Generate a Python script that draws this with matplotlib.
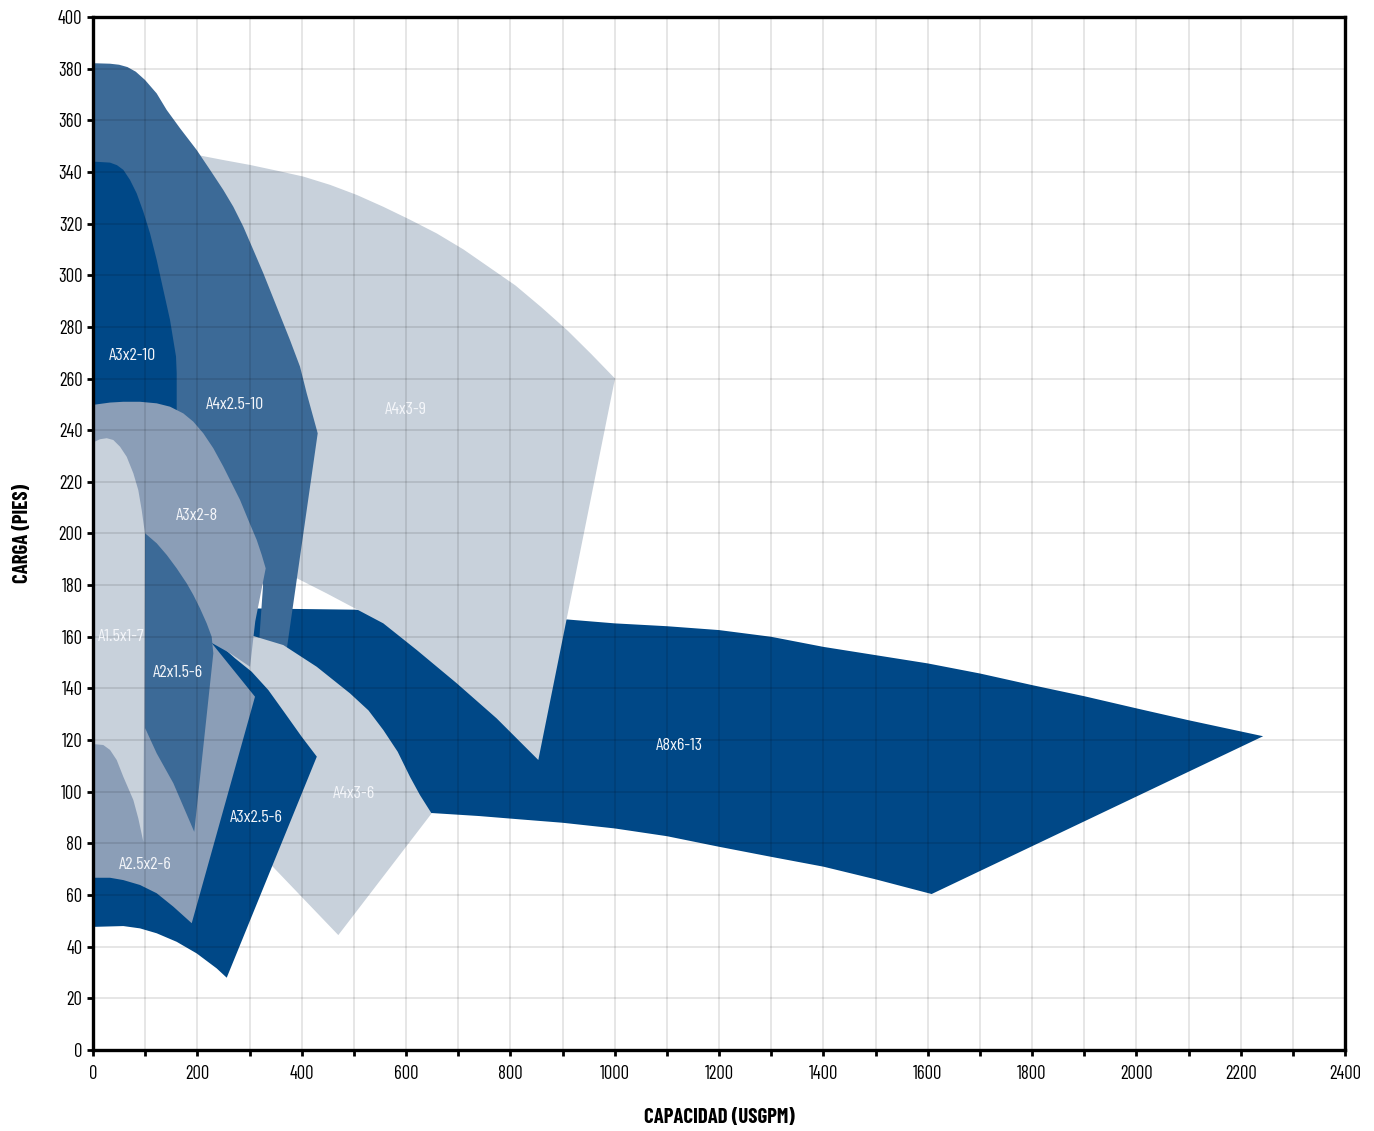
import matplotlib
matplotlib.use("Agg")
import matplotlib.pyplot as plt
import numpy as np

plt.rcParams["font.family"] = ["Barlow Condensed", "DejaVu Sans"]

# ── Outlines of each pump range (capacidad USGPM, carga pies) ────────────────

a8x6_13_x = [300, 502, 700, 909.5, 1000, 1100, 1200, 1300, 1400, 1500, 1600, 1700,
             1800, 1900, 2000, 2100, 2243,
             1607.6, 1500, 1400, 1300, 1200, 1100, 1000, 900, 819, 740, 646, 300]
a8x6_13_y = [171, 170.5, 169, 166.7, 165.2, 164.1, 162.6, 160, 156.1, 152.9, 149.7, 145.8,
             141.3, 137, 132.3, 127.7, 121.5,
             60.4, 66.1, 71, 74.8, 78.7, 82.8, 85.8, 88, 89.3, 90.6, 91.8, 150]

a4x3_9_x = [170, 198.8, 249.8, 301, 352.1, 403.1, 454.3, 505.5, 556.5, 607.6, 658.8,
            710, 760, 810, 860, 910, 955, 1000.6,
            853.6, 773.8, 697.2, 620.5, 556.5, 502.2, 448, 390.4, 300, 170]
a4x3_9_y = [348, 346.6, 344.6, 342.7, 340.5, 338.2, 335, 331.1, 326.5, 321.5, 316.2,
            310, 303, 296, 287.5, 278.5, 269.5, 260,
            112.3, 128.4, 142, 154.9, 165.2, 171, 176.8, 182.7, 188, 195]

a4x25_10_x = [0, 32.6, 50, 66, 82, 99.7, 122, 141.2, 166.8, 198.7, 224.3, 249.8, 269,
              288.1, 307.3, 326.4, 352.1, 377.6, 396.8, 409.6, 430.7,
              371.2, 318, 326, 250, 0]
a4x25_10_y = [382.1, 381.9, 381.5, 380.6, 378.8, 375.6, 370.4, 364, 356.9, 348.5, 340.8, 333, 326.5,
              318.8, 309.8, 300.8, 287.8, 274.9, 264.6, 254.3, 238.8,
              154.9, 157, 180, 215, 230]

a3x2_10_x = [0, 32.6, 46, 58.1, 70.9, 83.7, 96.4, 109.3, 122.1, 134.8, 147.6, 153.9, 159.1,
             160.4, 160.4, 0]
a3x2_10_y = [344, 343.6, 342.6, 340.8, 336.9, 331.7, 324.6, 316.2, 305.9, 294.3, 282.7, 274.9, 268.5,
             262, 240, 240]

a4x3_6_x = [230, 301, 364.8, 428.8, 492.6, 528, 556.5, 584, 607.6, 626.8, 649,
            470.2, 345, 230]
a4x3_6_y = [163, 160.7, 156.8, 148.4, 138.1, 131.5, 123.9, 115.5, 105.8, 98.7, 91.6,
            44.5, 70.9, 95]

a3x25_6_x = [0, 100, 200, 240, 272, 304, 336, 368, 400, 429,
             256.3, 237.1, 198.8, 160.4, 122.1, 90.1, 58.1, 3.8, 0]
a3x25_6_y = [178, 174.5, 163.7, 157.5, 151.7, 146.5, 139.4, 130.4, 121.3, 113.6,
             28, 31.6, 37.4, 41.9, 45.2, 47.1, 48, 47.7, 47.5]

a3x2_8_x = [0, 32.6, 58.1, 90.1, 122.1, 147.6, 173.1, 192.3, 211.4, 230.6, 249.8, 265.9,
            281.8, 297.7, 313.8, 323.4, 331,
            311, 301, 263, 227, 150, 0]
a3x2_8_y = [249.8, 250.7, 251, 251, 250.4, 249.1, 246.5, 243.3, 238.8, 233, 225.9, 219.4,
            213, 205.2, 197.5, 191.7, 186.5,
            166, 148.4, 153.6, 157.7, 162, 166]

a25x2_6_x = [0, 100, 180, 227, 310.5, 189.2, 154, 122.1, 90.1, 58.1, 32.6, 0]
a25x2_6_y = [172, 168, 163, 157.7, 136.8, 49.1, 55.5, 60.7, 63.9, 65.8, 66.7, 66.7]

a15x1_7_x = [0, 3.8, 13.4, 26.3, 38.9, 51.8, 64.6, 77.3, 86.8, 93.3, 97.8, 99.7,
             96.4, 86.8, 77.3, 67.7, 58.1, 45.4, 32.6, 19.7, 3.8, 0]
a15x1_7_y = [235, 235.6, 236.5, 236.9, 236.2, 233.6, 229.7, 223.3, 216.8, 209.1, 202.6, 200.1,
             80.7, 89.7, 96.8, 101.3, 105.8, 112.3, 116.2, 118.1, 118.4, 118.4]

a2x15_6_x = [99.7, 122.1, 141.3, 160.4, 179.6, 192.3, 205.1, 217.9, 227.5, 230.6,
             194, 154, 122, 100]
a2x15_6_y = [200.1, 196.2, 191.7, 186.5, 180.7, 176.2, 171, 165.2, 160, 153.6,
             84.5, 103.3, 114.9, 124.6]

modelos = ["A8x6-13", "A4x3-9", "A4x2.5-10", "A3x2-10", "A4x3-6",
           "A3x2.5-6", "A3x2-8", "A2.5x2-6", "A1.5x1-7", "A2x1.5-6"]
contornos = [(a8x6_13_x, a8x6_13_y), (a4x3_9_x, a4x3_9_y), (a4x25_10_x, a4x25_10_y),
             (a3x2_10_x, a3x2_10_y), (a4x3_6_x, a4x3_6_y), (a3x25_6_x, a3x25_6_y),
             (a3x2_8_x, a3x2_8_y), (a25x2_6_x, a25x2_6_y), (a15x1_7_x, a15x1_7_y),
             (a2x15_6_x, a2x15_6_y)]

# ── Estilo ───────────────────────────────────────────────────────────────────

OSCURO = "#004887"
MEDIO = "#3c6a97"
GRIS_AZUL = "#8b9eb7"
CLARO = "#c8d1db"
colores = {
    "A8x6-13": OSCURO, "A4x3-9": CLARO, "A4x2.5-10": MEDIO, "A3x2-10": OSCURO,
    "A4x3-6": CLARO, "A3x2.5-6": OSCURO, "A3x2-8": GRIS_AZUL, "A2.5x2-6": GRIS_AZUL,
    "A1.5x1-7": CLARO, "A2x1.5-6": MEDIO,
}
etiquetas = {
    "A3x2-10": (75, 269), "A4x2.5-10": (272, 250), "A4x3-9": (600, 248),
    "A3x2-8": (199, 207), "A1.5x1-7": (54, 160), "A2x1.5-6": (163, 146),
    "A8x6-13": (1125, 118), "A4x3-6": (500, 99.5), "A3x2.5-6": (312, 90),
    "A2.5x2-6": (100, 72),
}

fig = plt.figure(figsize=(13.74, 11.31), dpi=100)
ax = fig.add_axes([0.0677, 0.0716, 0.9112, 0.9134])

for nombre, (xs, ys) in zip(modelos, contornos):
    ax.fill(xs, ys, color=colores[nombre], lw=0, zorder=1)

for nombre, (tx, ty) in etiquetas.items():
    ax.text(tx, ty, nombre, color="#f4f6fa", fontsize=13, ha="center", va="center",
            zorder=4)

ax.set_xlim(0, 2400)
ax.set_ylim(0, 400)
ax.set_xticks(np.arange(0, 2401, 100))
ax.set_xticklabels([str(v) if v % 200 == 0 else "" for v in range(0, 2401, 100)])
ax.set_yticks(np.arange(0, 401, 20))
ax.set_axisbelow(False)
ax.grid(True, color="black", alpha=0.11, linewidth=1.3)
ax.tick_params(axis="both", direction="out", length=4.5, width=2, labelsize=13.5,
               colors="black")
ax.tick_params(axis="x", pad=6)
ax.tick_params(axis="y", pad=3)
for sp in ax.spines.values():
    sp.set_linewidth(2.4)
    sp.set_color("black")

ax.set_xlabel("CAPACIDAD (USGPM)", fontsize=15, fontweight="bold", va="center")
ax.set_ylabel("CARGA (PIES)", fontsize=15, fontweight="bold", va="center")
ax.xaxis.set_label_coords(0.5, -0.0658)
ax.yaxis.set_label_coords(-0.0567, 0.5)

fig.savefig("out.png", dpi=100)
